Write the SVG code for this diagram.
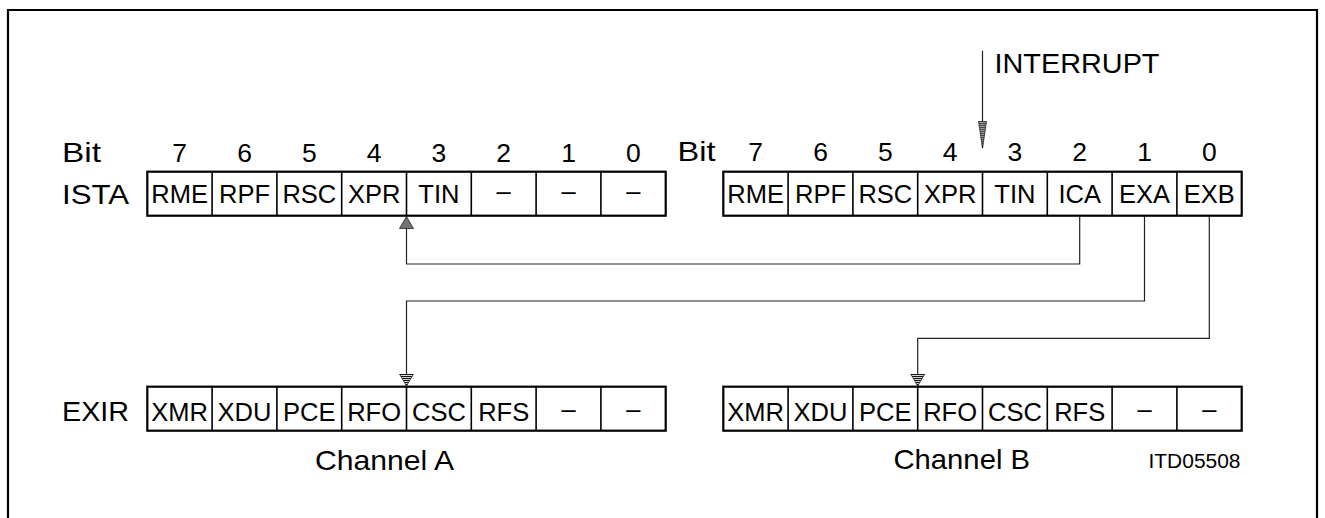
<svg xmlns="http://www.w3.org/2000/svg" width="1325" height="518" viewBox="0 0 1325 518">
  <style>
    text { font-family: "Liberation Sans", Arial, sans-serif; fill: #000; }
    .lbl { font-size: 28px; }
    .dig { font-size: 26.5px; text-anchor: middle; }
    .cell { font-size: 25.5px; text-anchor: middle; }
    .box { fill: #fff; stroke: #000; stroke-width: 2.2; }
    .div { stroke: #000; stroke-width: 1.6; }
    .conn { fill: none; stroke: #222; stroke-width: 1.2; }
    .frame { fill: none; stroke: #000; stroke-width: 2.2; }
  </style>
  <defs>
    <pattern id="hatch" patternUnits="userSpaceOnUse" width="2" height="10">
      <rect width="2" height="10" fill="#fff"/>
      <line x1="0.6" y1="0" x2="0.6" y2="10" stroke="#000" stroke-width="1.1"/>
    </pattern>
    <marker id="arrWide" viewBox="0 0 12 15" refX="12" refY="7.5" markerWidth="12" markerHeight="15" markerUnits="userSpaceOnUse" orient="auto">
      <path d="M0,0.5 L12,7.5 L0,14.5 Z" fill="url(#hatch)" stroke="#222" stroke-width="0.8"/>
    </marker>
    <marker id="arrNarrow" viewBox="0 0 27 9" refX="27" refY="4.5" markerWidth="27" markerHeight="9" markerUnits="userSpaceOnUse" orient="auto">
      <path d="M0,0.5 L27,4.5 L0,8.5 Z" fill="url(#hatch)" stroke="#222" stroke-width="0.8"/>
    </marker>
  </defs>

  <path class="frame" d="M8,520 V10 H1317 V520"/>

  <!-- left labels -->
  <g id="labels-left">
    <text class="lbl" x="62" y="161.5" textLength="39" lengthAdjust="spacingAndGlyphs">Bit</text>
    <text class="lbl" x="62" y="203.5" textLength="67" lengthAdjust="spacingAndGlyphs">ISTA</text>
    <text class="lbl" x="62" y="421" textLength="67" lengthAdjust="spacingAndGlyphs">EXIR</text>
  </g>

  <!-- bit numbers left -->
  <g id="bits-left">
    <text class="dig" x="179.7" y="161.5">7</text>
    <text class="dig" x="244.5" y="161.5">6</text>
    <text class="dig" x="309.3" y="161.5">5</text>
    <text class="dig" x="374.1" y="161.5">4</text>
    <text class="dig" x="438.9" y="161.5">3</text>
    <text class="dig" x="503.7" y="161.5">2</text>
    <text class="dig" x="568.5" y="161.5">1</text>
    <text class="dig" x="633.3" y="161.5">0</text>
  </g>

  <!-- bit numbers right -->
  <g id="bits-right">
    <text class="lbl" x="677.5" y="161" textLength="38" lengthAdjust="spacingAndGlyphs">Bit</text>
    <text class="dig" x="755.7" y="161">7</text>
    <text class="dig" x="820.5" y="161">6</text>
    <text class="dig" x="885.3" y="161">5</text>
    <text class="dig" x="950.1" y="161">4</text>
    <text class="dig" x="1014.9" y="161">3</text>
    <text class="dig" x="1079.7" y="161">2</text>
    <text class="dig" x="1144.5" y="161">1</text>
    <text class="dig" x="1209.3" y="161">0</text>
  </g>

  <!-- ISTA channel A -->
  <g id="ista-a">
    <rect class="box" x="147.3" y="171.7" width="518.4" height="44"/>
    <path class="div" d="M212.1,171.7 V215.7 M276.9,171.7 V215.7 M341.7,171.7 V215.7 M406.5,171.7 V215.7 M471.3,171.7 V215.7 M536.1,171.7 V215.7 M600.9,171.7 V215.7"/>
    <text class="cell" x="179.7" y="203">RME</text>
    <text class="cell" x="244.5" y="203">RPF</text>
    <text class="cell" x="309.3" y="203">RSC</text>
    <text class="cell" x="374.1" y="203">XPR</text>
    <text class="cell" x="438.9" y="203">TIN</text>
    <text class="cell" x="503.7" y="200">–</text>
    <text class="cell" x="568.5" y="200">–</text>
    <text class="cell" x="633.3" y="200">–</text>
  </g>

  <!-- ISTA channel B -->
  <g id="ista-b">
    <rect class="box" x="723.3" y="171.7" width="518.4" height="44"/>
    <path class="div" d="M788.1,171.7 V215.7 M852.9,171.7 V215.7 M917.7,171.7 V215.7 M982.5,171.7 V215.7 M1047.3,171.7 V215.7 M1112.1,171.7 V215.7 M1176.9,171.7 V215.7"/>
    <text class="cell" x="755.7" y="203">RME</text>
    <text class="cell" x="820.5" y="203">RPF</text>
    <text class="cell" x="885.3" y="203">RSC</text>
    <text class="cell" x="950.1" y="203">XPR</text>
    <text class="cell" x="1014.9" y="203">TIN</text>
    <text class="cell" x="1079.7" y="203">ICA</text>
    <text class="cell" x="1144.5" y="203">EXA</text>
    <text class="cell" x="1209.3" y="203">EXB</text>
  </g>

  <!-- EXIR channel A -->
  <g id="exir-a">
    <rect class="box" x="147.3" y="386.7" width="518.4" height="44"/>
    <path class="div" d="M212.1,386.7 V430.7 M276.9,386.7 V430.7 M341.7,386.7 V430.7 M406.5,386.7 V430.7 M471.3,386.7 V430.7 M536.1,386.7 V430.7 M600.9,386.7 V430.7"/>
    <text class="cell" x="179.7" y="421">XMR</text>
    <text class="cell" x="244.5" y="421">XDU</text>
    <text class="cell" x="309.3" y="421">PCE</text>
    <text class="cell" x="374.1" y="421">RFO</text>
    <text class="cell" x="438.9" y="421">CSC</text>
    <text class="cell" x="503.7" y="421">RFS</text>
    <text class="cell" x="568.5" y="418">–</text>
    <text class="cell" x="633.3" y="418">–</text>
    <text class="lbl" x="315" y="470" font-size="29" textLength="139" lengthAdjust="spacingAndGlyphs">Channel A</text>
  </g>

  <!-- EXIR channel B -->
  <g id="exir-b">
    <rect class="box" x="723.3" y="386.7" width="518.4" height="44"/>
    <path class="div" d="M788.1,386.7 V430.7 M852.9,386.7 V430.7 M917.7,386.7 V430.7 M982.5,386.7 V430.7 M1047.3,386.7 V430.7 M1112.1,386.7 V430.7 M1176.9,386.7 V430.7"/>
    <text class="cell" x="755.7" y="421">XMR</text>
    <text class="cell" x="820.5" y="421">XDU</text>
    <text class="cell" x="885.3" y="421">PCE</text>
    <text class="cell" x="950.1" y="421">RFO</text>
    <text class="cell" x="1014.9" y="421">CSC</text>
    <text class="cell" x="1079.7" y="421">RFS</text>
    <text class="cell" x="1144.5" y="418">–</text>
    <text class="cell" x="1209.3" y="418">–</text>
    <text class="lbl" x="893.5" y="469" font-size="29" textLength="136.5" lengthAdjust="spacingAndGlyphs">Channel B</text>
  </g>

  <g id="interrupt-label">
    <text class="lbl" x="994.5" y="73.3" font-size="29.5" textLength="165" lengthAdjust="spacingAndGlyphs">INTERRUPT</text>
  </g>

  <g id="figure-id">
    <text x="1148.5" y="467.7" font-size="20" textLength="92" lengthAdjust="spacingAndGlyphs">ITD05508</text>
  </g>

  <!-- connectors -->
  <g id="connectors">
    <path class="conn" d="M982.5,50.7 V148.3" marker-end="url(#arrNarrow)"/>
    <path class="conn" d="M1079.7,215.7 V264 H406.5 V216.5" marker-end="url(#arrWide)"/>
    <path class="conn" d="M1144.5,215.7 V301 H406.5 V386" marker-end="url(#arrWide)"/>
    <path class="conn" d="M1209.3,215.7 V338.3 H917.7 V386" marker-end="url(#arrWide)"/>
  </g>
</svg>
